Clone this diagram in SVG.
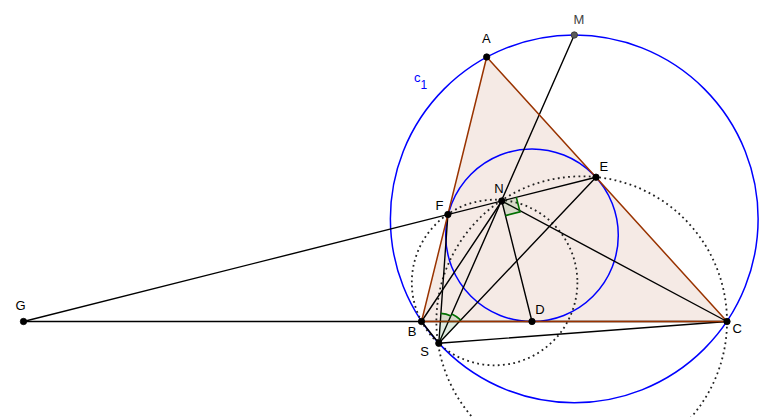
<svg xmlns="http://www.w3.org/2000/svg" width="775" height="417" viewBox="0 0 775 417">
<style>
.ln{stroke:#000;stroke-width:1.4;fill:none;stroke-linecap:round}
.blue{stroke:#0000ff;stroke-width:1.5;fill:none}
.dot{stroke:#222;stroke-width:1.8;fill:none;stroke-dasharray:1.8 3.4}
.tri{fill:#993300;fill-opacity:0.1;stroke:none}
.edge{stroke:#993300;stroke-width:1.5;fill:none;stroke-linecap:round}
.ang{fill:#006400;fill-opacity:0.12;stroke:none}
.angs{stroke:#007000;stroke-width:1.6;fill:none}
.pt{fill:#000;stroke:#000;stroke-width:0.8}
.lbl{font-family:"Liberation Sans",Arial,sans-serif;font-size:13px;fill:#000}
</style>
<rect width="775" height="417" fill="#fff"/>
<path class="tri" d="M486.7,57 L421.5,321.5 L727,321.5 Z"/>
<g id="circles">
<circle id="c1" class="blue" cx="574.25" cy="218.87" r="183.87"/>
<circle id="incircle" class="blue" cx="532" cy="235.25" r="86.3"/>
<circle id="circleBFNS" class="dot" cx="494.6" cy="282.5" r="82.8"/>
<circle id="circleENSC" class="dot" cx="581.7" cy="321.6" r="145.3"/>
</g>
<g id="connectors">
<line class="ln" x1="23.5" y1="321.5" x2="727" y2="321.5"/>
<line class="ln" x1="23.5" y1="321.5" x2="596" y2="177.2"/>
<line class="ln" x1="574.3" y1="35" x2="438.8" y2="343.3"/>
<line class="ln" x1="501.8" y1="201" x2="532" y2="321.5"/>
<line class="ln" x1="501.8" y1="201" x2="727" y2="321.5"/>
<line class="ln" x1="421.5" y1="321.5" x2="501.8" y2="201"/>
<line class="ln" x1="438.8" y1="343.3" x2="447.9" y2="214.5"/>
<line class="ln" x1="438.8" y1="343.3" x2="596" y2="177.2"/>
<line class="ln" x1="438.8" y1="343.3" x2="421.5" y2="321.5"/>
<line class="ln" x1="438.8" y1="343.3" x2="727" y2="321.5"/>
<path class="edge" d="M486.7,57 L421.5,321.5 L727,321.5 Z"/>
</g>
<g id="angles">
<path class="ang" d="M438.8,343.3 L440.9,313.4 A30,30 0 0 1 451.0,315.9 Z"/>
<path class="angs" d="M440.9,313.4 A30,30 0 0 1 451.0,315.9"/>
<path class="ang" d="M438.8,343.3 L451.8,314.0 A32,32 0 0 1 460.8,320.1 Z"/>
<path class="angs" d="M451.8,314.0 A32,32 0 0 1 460.8,320.1"/>
<path class="ang" d="M501.8,201 L516.3,197.3 L520.0,211.9 L505.4,215.6 Z"/>
<path class="angs" d="M516.3,197.3 L520.0,211.9 L505.4,215.6"/>
</g>
<g id="A"><circle class="pt" cx="486.7" cy="57" r="3.2"/><text class="lbl" x="482" y="43.3">A</text></g>
<g id="M"><circle cx="574.3" cy="35" r="3.2" fill="#5a5a5a" stroke="#333" stroke-width="0.8"/><text class="lbl" x="573.5" y="24" style="fill:#444">M</text></g>
<g id="c1label"><text class="lbl" x="414" y="82" style="fill:#0000ff">c</text><text class="lbl" x="420.5" y="88.5" style="fill:#0000ff;font-size:12px">1</text></g>
<g id="E"><circle class="pt" cx="596" cy="177.2" r="3.2"/><text class="lbl" x="599.5" y="170.7">E</text></g>
<g id="N"><circle class="pt" cx="501.8" cy="201" r="3.2"/><text class="lbl" x="494.3" y="193.3">N</text></g>
<g id="F"><circle class="pt" cx="447.9" cy="214.5" r="3.2"/><text class="lbl" x="435.5" y="210">F</text></g>
<g id="G"><circle class="pt" cx="23.5" cy="321.5" r="3.2"/><text class="lbl" x="15.5" y="310">G</text></g>
<g id="B"><circle class="pt" cx="421.5" cy="321.5" r="3.2"/><text class="lbl" x="407.8" y="336">B</text></g>
<g id="D"><circle class="pt" cx="532" cy="321.5" r="3.2"/><text class="lbl" x="535.2" y="314">D</text></g>
<g id="C"><circle class="pt" cx="727" cy="321.5" r="3.2"/><text class="lbl" x="732.5" y="333">C</text></g>
<g id="S"><circle class="pt" cx="438.8" cy="343.3" r="3.2"/><text class="lbl" x="420.2" y="355.7">S</text></g>
</svg>
